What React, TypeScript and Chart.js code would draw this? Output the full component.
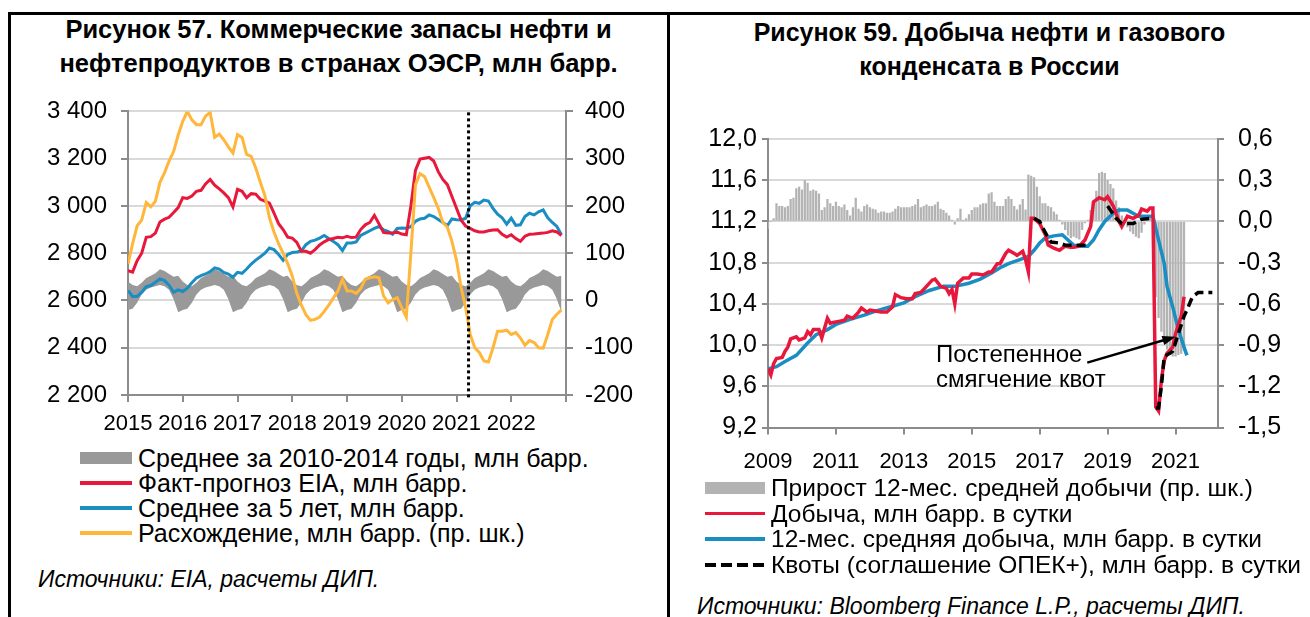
import React, { useEffect, useRef } from "react";
import { Chart, registerables } from "chart.js";

Chart.register(...registerables);

const FONT = '"Liberation Sans", Arial, Helvetica, sans-serif';
Chart.defaults.font.family = FONT;

// ---------------- Рисунок 57 (left) ----------------
const leftStartYear = 2015;
const leftYearTicks = [2015, 2016, 2017, 2018, 2019, 2020, 2021, 2022, 2023];
const leftYTicks = [2200, 2400, 2600, 2800, 3000, 3200, 3400];
const leftY1Ticks = [-200, -100, 0, 100, 200, 300, 400];
const forecastStart = 2021.22;

// monthly, Jan 2015 .. Dec 2022
const eiaStocks = [
  2726, 2720, 2768, 2800, 2867, 2870, 2885, 2932, 2944, 2952, 2972, 2993,
  3035, 3032, 3042, 3062, 3066, 3093, 3112, 3088, 3072, 3055, 3035, 2996,
  3070, 3062, 3035, 3052, 3050, 3028, 3020, 3012, 2970, 2925, 2900, 2868,
  2864, 2846, 2808, 2808, 2800, 2815, 2835, 2848, 2858, 2862, 2867, 2865,
  2871, 2866, 2868, 2900, 2920, 2930, 2960, 2925, 2888, 2885, 2886, 2889,
  2881, 2878, 3000, 3150, 3198, 3202, 3206, 3190, 3145, 3112, 3090, 3040,
  2990, 2940, 2915, 2905, 2895, 2890, 2890, 2895, 2898, 2899, 2880, 2868,
  2878, 2862, 2850, 2872, 2880, 2881, 2883, 2885, 2888, 2895, 2890, 2875,
];
const avg5y = [
  2642, 2617, 2617, 2635, 2659, 2663, 2677, 2691, 2684, 2665, 2635, 2645,
  2638, 2652, 2675, 2695, 2705, 2712, 2722, 2738, 2733, 2719, 2712, 2698,
  2719, 2715, 2733, 2754, 2771, 2785, 2800, 2822, 2815, 2795, 2770, 2795,
  2803, 2805, 2810, 2836, 2850, 2855, 2864, 2875, 2862, 2850, 2836, 2811,
  2843, 2843, 2848, 2875, 2885, 2895, 2905, 2913, 2899, 2892, 2880, 2905,
  2907, 2906, 2912, 2935, 2945, 2948, 2962, 2955, 2943, 2930, 2917, 2945,
  2942, 2941, 2948, 3000, 3015, 3011, 3025, 3021, 2990, 2965, 2950, 2923,
  2948, 2918, 2920, 2955, 2969, 2962, 2975, 2983, 2950, 2930, 2913, 2878,
];
const divergence = [
  77, 120, 158, 170, 207, 198, 210, 250, 270, 295, 315, 350,
  379, 400, 382, 372, 372, 390, 398, 345, 352, 340, 325, 312,
  351, 345, 309, 305, 280, 250, 222, 175, 145, 120, 100, 78,
  52, 15, -10, -30, -42, -40, -35, -23, -10, 5, 20, 45,
  20, 20, 15, 25, 45, 48, 50, 48, 10, -5, 2, 6,
  -15, -35, 100, 245, 268, 262, 240, 218, 195, 165, 155, 125,
  85, 28, -15, -72, -100, -110, -128, -130, -100, -65, -65, -63,
  -72, -68, -79, -95, -85, -89, -100, -101, -72, -40, -29, -20,
];
// 2010-2014 average range by calendar month (Jan..Dec), same for every year
const avg1014High = [2680, 2665, 2660, 2675, 2695, 2705, 2715, 2732, 2725, 2712, 2700, 2705];
const avg1014Low = [2560, 2565, 2590, 2625, 2645, 2655, 2660, 2665, 2660, 2645, 2605, 2550];

// ---------------- Рисунок 59 (right) ----------------
const rightStartYear = 2009;
const rightYearTicks = [2009, 2011, 2013, 2015, 2017, 2019, 2021];
const rightYTicks = [9.2, 9.6, 10.0, 10.4, 10.8, 11.2, 11.6, 12.0];
const rightY1Ticks = [-1.5, -1.2, -0.9, -0.6, -0.3, 0, 0.3, 0.6];

// months since Jan 2009
const prodMonths = [
  0, 1, 2, 3, 5, 6, 7, 8, 10, 11, 13, 14, 15, 16, 18, 19, 21, 22, 23, 25, 27, 28, 30, 32, 33, 35, 36, 38, 40, 42,
  44, 45, 47, 49, 51, 52, 54, 56, 58, 59, 61, 63, 64, 65, 66, 67, 69, 71, 72, 74, 76, 78, 79, 81, 82, 84, 85, 87,
  88, 90, 91, 92, 93, 94, 96, 98, 99, 101, 103, 105, 107, 108, 110, 112, 114, 115, 117, 119, 120, 122, 124, 125,
  127, 129, 131, 132, 134, 135, 136, 137, 138, 139, 140, 141, 143, 144, 146, 147,
];
const prodValues = [
  9.77, 9.71, 9.82, 9.87, 9.88, 9.94, 9.98, 10.06, 10.08, 10.05, 10.07, 10.13, 10.1, 10.15, 10.15, 10.07, 10.26,
  10.21, 10.22, 10.23, 10.24, 10.28, 10.26, 10.32, 10.36, 10.32, 10.34, 10.33, 10.32, 10.32,
  10.37, 10.49, 10.46, 10.45, 10.45, 10.5, 10.51, 10.57, 10.63, 10.64, 10.57, 10.55, 10.5, 10.54, 10.4, 10.6, 10.65,
  10.65, 10.69, 10.69, 10.68, 10.71, 10.71, 10.79, 10.79, 10.89, 10.92, 10.89,
  10.87, 10.91, 10.83, 10.71, 11.23, 11.23, 11.18, 11.07, 10.97, 10.94, 10.92, 10.96, 10.95, 10.95, 10.96, 11.02,
  11.15, 11.39, 11.43, 11.41, 11.44, 11.35, 11.2, 11.15,
  11.25, 11.23, 11.26, 11.32, 11.3, 11.33, 11.33, 9.4, 9.36, 9.66, 9.85, 9.92, 9.98, 10.11, 10.28, 10.47,
];
const avg12Months = [
  0, 3, 6, 10, 14, 17, 21, 24, 29, 34, 38, 43, 48, 52, 57, 62, 66, 71, 75, 79, 82, 85, 89, 92, 94, 96, 98, 101,
  104, 106, 108, 110, 113, 115, 117, 119, 122, 124, 127, 129, 131, 134, 136, 138, 140, 141, 143, 145, 147, 148,
];
const avg12Values = [
  9.77, 9.79, 9.84, 9.9, 10.02, 10.1, 10.15, 10.2, 10.25, 10.29, 10.33, 10.37, 10.41, 10.47, 10.53, 10.57, 10.57,
  10.6, 10.64, 10.7, 10.75, 10.79, 10.83, 10.86, 10.92, 10.99, 11.04, 11.06,
  11.07, 11.02, 10.97, 10.96, 10.96, 11.02, 11.12, 11.2, 11.28, 11.31, 11.31, 11.28, 11.25, 11.25, 11.25, 11.02,
  10.79, 10.57, 10.37, 10.15, 9.98, 9.9,
];
const quotaMonths = [
  94, 96, 98, 100, 103, 105, 113, 114, 120, 123, 125, 129, 132, 135, 136, 137, 138, 139, 140, 142, 143, 145, 147,
  148, 150, 152, 157,
];
const quotaValues = [
  11.23, 11.2, 11.09, 11.0, 10.99, 10.97, 10.97, null, 11.35, 11.23, 11.18, 11.18, 11.22, 11.23, null, 9.39, 9.39,
  9.6, 9.89, 9.92, 9.94, 10.11, 10.28, 10.34, 10.47, 10.51, 10.51,
];
// monthly from Jan 2009 (right axis)
const growth12 = [
  -0.05, 0.0, 0.02, 0.13, 0.11, 0.11, 0.1, 0.11, 0.16, 0.17, 0.24, 0.25,
  0.23, 0.3, 0.28, 0.22, 0.23, 0.22, 0.2, 0.08, 0.1, 0.16, 0.13, 0.11,
  0.14, 0.11, 0.1, 0.12, 0.08, 0.04, 0.1, 0.17, 0.09, 0.07, 0.11, 0.12,
  0.1, 0.09, 0.085, 0.06, 0.07, 0.07, 0.06, 0.06, 0.07, 0.09, 0.11, 0.1,
  0.1, 0.1, 0.1, 0.11, 0.12, 0.16, 0.1, 0.11, 0.12, 0.11, 0.11, 0.12,
  0.14, 0.09, 0.08, 0.06, 0.04, 0.01, -0.02, 0.02, 0.09, 0.01, 0.02, 0.05,
  0.08, 0.1, 0.1, 0.12, 0.13, 0.13, 0.2, 0.21, 0.14, 0.11, 0.11, 0.11,
  0.16, 0.18, 0.16, 0.11, 0.085, 0.12, 0.16, 0.085, 0.34, 0.33, 0.32, 0.25,
  0.18, 0.13, 0.13, 0.11, 0.1, 0.07, 0.05, 0.01, -0.02, -0.06, -0.1, -0.12,
  -0.11, -0.12, -0.13, -0.06, -0.01, 0.01, 0.08, 0.15, 0.22, 0.35, 0.36, 0.35,
  0.3, 0.27, 0.24, 0.15, 0.1, 0.04, 0.0, -0.04, -0.07, -0.09, -0.11, -0.12,
  -0.08, -0.02, 0.03, 0.04, 0.0, -0.55, -0.7, -0.8, -0.88, -0.93, -0.96, -0.98,
  -0.98, -0.97, -0.96, -0.94,
];
const annotationLines = ["Постепенное", "смягчение квот"];
const annotationAt = { x: 2013.95, y: 9.9 };
const arrowFrom = { x: 2018.4, y: 9.83 };
const arrowTo = { x: 2021.0, y: 10.08 };

// ---------------- colours ----------------
const RED = "#e8183c";
const BLUE = "#1a8dc2";
const ORANGE = "#ffb63a";
const BAND = "#999999";
const BARS = "#b3b3b3";
const AXIS = "#8c8c8c";
const GRID = "#d9d9d9";

const monthX = (start: number, m: number) => start + m / 12;
const fmtThousands = (v: number) =>
  v >= 1000 ? `${Math.floor(v / 1000)} ${String(v % 1000).padStart(3, "0")}` : String(v);
const fmtComma = (v: number) => v.toFixed(1).replace(".", ",");

function fixedTicks(values: number[]) {
  return (axis: any) => {
    axis.ticks = values.map((v) => ({ value: v }));
  };
}

function leftConfig(): any {
  const xs = eiaStocks.map((_, i) => monthX(leftStartYear, i));
  const bandHigh = xs.map((x, i) => ({ x, y: avg1014High[i % 12] }));
  const bandLow = xs.map((x, i) => ({ x, y: avg1014Low[i % 12] }));
  const line = (vals: number[]) => vals.map((y, i) => ({ x: xs[i], y }));
  return {
    type: "line",
    data: {
      datasets: [
        { data: bandLow, borderWidth: 0, pointRadius: 0, fill: false, order: 6, borderColor: "rgba(0,0,0,0)" },
        { data: bandHigh, borderWidth: 0, pointRadius: 0, fill: "-1", backgroundColor: BAND, order: 5, borderColor: "rgba(0,0,0,0)" },
        { data: line(avg5y), borderColor: BLUE, borderWidth: 3, pointRadius: 0, order: 3 },
        { data: line(eiaStocks), borderColor: RED, borderWidth: 3, pointRadius: 0, order: 2 },
        { data: line(divergence), borderColor: ORANGE, borderWidth: 3, pointRadius: 0, order: 1, yAxisID: "y1" },
        {
          data: [
            { x: forecastStart, y: 2190 },
            { x: forecastStart, y: 3400 },
          ],
          borderColor: "#000",
          borderWidth: 3,
          borderDash: [3, 3],
          pointRadius: 0,
          order: 0,
          clip: false,
        },
      ],
    },
    options: {
      responsive: true,
      maintainAspectRatio: false,
      animation: false,
      events: [],
      layout: { padding: 0 },
      elements: { line: { tension: 0 } },
      plugins: { legend: { display: false }, tooltip: { enabled: false } },
      scales: {
        x: {
          type: "linear",
          min: 2015,
          max: 2023,
          afterBuildTicks: fixedTicks(leftYearTicks),
          afterFit: (s: any) => {
            s.height = 40;
          },
          ticks: {
            callback: (v: number) => (v === 2023 ? "" : String(v)),
            font: { size: 22 },
            color: "#000",
            maxRotation: 0,
            autoSkip: false,
            padding: 9,
          },
          grid: { drawOnChartArea: false, color: AXIS, lineWidth: 2, tickLength: 7 },
          border: { color: AXIS, width: 2 },
        },
        y: {
          position: "left",
          min: 2200,
          max: 3400,
          afterBuildTicks: fixedTicks(leftYTicks),
          afterFit: (s: any) => {
            s.width = 108;
          },
          ticks: { callback: (v: number) => fmtThousands(v), font: { size: 24 }, color: "#000", padding: 14 },
          grid: { color: GRID, lineWidth: 2, tickColor: AXIS, tickLength: 7 },
          border: { color: AXIS, width: 2 },
        },
        y1: {
          position: "right",
          min: -200,
          max: 400,
          afterBuildTicks: fixedTicks(leftY1Ticks),
          afterFit: (s: any) => {
            s.width = 74;
          },
          ticks: { callback: (v: number) => String(v), font: { size: 24 }, color: "#000", padding: 12 },
          grid: { drawOnChartArea: false, color: AXIS, lineWidth: 2, tickLength: 7 },
          border: { color: AXIS, width: 2 },
        },
      },
    },
  };
}

const annotationPlugin = {
  id: "quotaAnnotation",
  afterDatasetsDraw(chart: any) {
    const { ctx, scales } = chart;
    const x = scales.x;
    const y = scales.y;
    ctx.save();
    ctx.fillStyle = "#000";
    ctx.font = `24px ${FONT}`;
    ctx.textBaseline = "middle";
    const tx = x.getPixelForValue(annotationAt.x);
    const ty = y.getPixelForValue(annotationAt.y);
    annotationLines.forEach((t, i) => ctx.fillText(t, tx, ty + i * 25));
    const x0 = x.getPixelForValue(arrowFrom.x);
    const y0 = y.getPixelForValue(arrowFrom.y);
    const x1 = x.getPixelForValue(arrowTo.x);
    const y1 = y.getPixelForValue(arrowTo.y);
    const ang = Math.atan2(y1 - y0, x1 - x0);
    ctx.strokeStyle = "#000";
    ctx.lineWidth = 2.5;
    ctx.beginPath();
    ctx.moveTo(x0, y0);
    ctx.lineTo(x1 - 8 * Math.cos(ang), y1 - 8 * Math.sin(ang));
    ctx.stroke();
    ctx.beginPath();
    ctx.moveTo(x1, y1);
    ctx.lineTo(x1 - 14 * Math.cos(ang - 0.35), y1 - 14 * Math.sin(ang - 0.35));
    ctx.lineTo(x1 - 14 * Math.cos(ang + 0.35), y1 - 14 * Math.sin(ang + 0.35));
    ctx.closePath();
    ctx.fill();
    ctx.restore();
  },
};

function rightConfig(): any {
  const pts = (months: number[], vals: (number | null)[]) =>
    months.map((m, i) => ({ x: monthX(rightStartYear, m), y: vals[i] }));
  return {
    type: "line",
    data: {
      datasets: [
        {
          type: "line",
          data: pts(quotaMonths, quotaValues),
          borderColor: "#000",
          borderWidth: 3.5,
          borderDash: [9, 5],
          pointRadius: 0,
          spanGaps: false,
          order: 1,
        },
        { type: "line", data: pts(prodMonths, prodValues), borderColor: RED, borderWidth: 3.5, pointRadius: 0, order: 2 },
        { type: "line", data: pts(avg12Months, avg12Values), borderColor: BLUE, borderWidth: 3.5, pointRadius: 0, order: 3 },
        {
          type: "bar",
          data: growth12.map((v, i) => ({ x: monthX(rightStartYear, i), y: v })),
          backgroundColor: BARS,
          barThickness: 1.6,
          yAxisID: "y1",
          order: 10,
        },
      ],
    },
    plugins: [annotationPlugin],
    options: {
      responsive: true,
      maintainAspectRatio: false,
      animation: false,
      events: [],
      layout: { padding: 0 },
      elements: { line: { tension: 0 } },
      plugins: { legend: { display: false }, tooltip: { enabled: false } },
      scales: {
        x: {
          type: "linear",
          min: 2009,
          max: 2022.25,
          offset: false,
          afterBuildTicks: fixedTicks(rightYearTicks),
          afterFit: (s: any) => {
            s.height = 53;
          },
          ticks: { callback: (v: number) => String(v), font: { size: 22 }, color: "#000", maxRotation: 0, autoSkip: false, padding: 14 },
          grid: { drawOnChartArea: false, color: AXIS, lineWidth: 2, tickLength: 7, offset: false },
          border: { color: AXIS, width: 2 },
        },
        y: {
          position: "left",
          min: 9.2,
          max: 12.0,
          afterBuildTicks: fixedTicks(rightYTicks),
          afterFit: (s: any) => {
            s.width = 88;
          },
          ticks: { callback: (v: number) => fmtComma(v), font: { size: 25 }, color: "#000", padding: 5 },
          grid: { color: GRID, lineWidth: 2, tickColor: AXIS, tickLength: 6 },
          border: { color: AXIS, width: 2 },
        },
        y1: {
          position: "right",
          min: -1.5,
          max: 0.6,
          afterBuildTicks: fixedTicks(rightY1Ticks),
          afterFit: (s: any) => {
            s.width = 72;
          },
          ticks: { callback: (v: number) => fmtComma(v), font: { size: 25 }, color: "#000", padding: 14 },
          grid: { drawOnChartArea: false, color: AXIS, lineWidth: 2, tickLength: 6 },
          border: { color: AXIS, width: 2 },
        },
      },
    },
  };
}

function ChartBox({ make, left, top, width, height }: any) {
  const ref = useRef<HTMLCanvasElement>(null);
  useEffect(() => {
    const chart = new Chart(ref.current as HTMLCanvasElement, make());
    return () => chart.destroy();
  }, []);
  return (
    <div style={{ position: "absolute", left, top, width, height }}>
      <canvas ref={ref} />
    </div>
  );
}

type LegendItem = { kind: "box" | "line" | "dash"; color: string; label: string };

const leftLegend: LegendItem[] = [
  { kind: "box", color: BAND, label: "Среднее за 2010-2014 годы, млн барр." },
  { kind: "line", color: RED, label: "Факт-прогноз EIA, млн барр." },
  { kind: "line", color: BLUE, label: "Среднее за 5 лет, млн барр." },
  { kind: "line", color: ORANGE, label: "Расхождение, млн барр. (пр. шк.)" },
];
const rightLegend: LegendItem[] = [
  { kind: "box", color: BARS, label: "Прирост 12-мес. средней добычи (пр. шк.)" },
  { kind: "line", color: RED, label: "Добыча, млн барр. в сутки" },
  { kind: "line", color: BLUE, label: "12-мес. средняя добыча, млн барр. в сутки" },
  { kind: "dash", color: "#000", label: "Квоты (соглашение ОПЕК+), млн барр. в сутки" },
];

function Legend({ items, left, top, iconWidth, step, fontSize }: any) {
  return (
    <div style={{ position: "absolute", left, top }}>
      {items.map((it: LegendItem, i: number) => {
        let icon: any;
        if (it.kind === "box") icon = <div style={{ width: iconWidth, height: 12, background: it.color }} />;
        else if (it.kind === "line") icon = <div style={{ width: iconWidth, height: 3.5, background: it.color }} />;
        else
          icon = (
            <div
              style={{
                width: iconWidth,
                height: 4,
                background: `repeating-linear-gradient(to right, ${it.color} 0 11px, transparent 11px 16px)`,
              }}
            />
          );
        return (
          <div
            key={i}
            style={{ position: "absolute", left: 0, top: i * step, height: 26, display: "flex", alignItems: "center", whiteSpace: "nowrap" }}
          >
            {icon}
            <span style={{ marginLeft: 6, fontSize, lineHeight: "26px", color: "#000" }}>{it.label}</span>
          </div>
        );
      })}
    </div>
  );
}

export default function App() {
  return (
    <div
      style={{
        position: "absolute",
        left: 0,
        top: 0,
        width: 1310,
        height: 617,
        overflow: "hidden",
        background: "#fff",
        fontFamily: FONT,
        color: "#000",
      }}
    >
      <div style={{ position: "absolute", left: 8, top: 12, width: 1302, height: 2.5, background: "#000" }} />
      <div style={{ position: "absolute", left: 8, top: 12, width: 2.5, height: 605, background: "#000" }} />
      <div style={{ position: "absolute", left: 667, top: 12, width: 2.5, height: 605, background: "#000" }} />

      <div
        style={{ position: "absolute", left: 10, top: 12, width: 657, textAlign: "center", fontWeight: "bold", fontSize: 25.5, lineHeight: "34px" }}
      >
        Рисунок 57. Коммерческие запасы нефти и
        <br />
        нефтепродуктов в странах ОЭСР, млн барр.
      </div>
      <div
        style={{ position: "absolute", left: 669, top: 15, width: 641, textAlign: "center", fontWeight: "bold", fontSize: 25, lineHeight: "34px" }}
      >
        Рисунок 59. Добыча нефти и газового
        <br />
        конденсата в России
      </div>

      <ChartBox make={leftConfig} left={20} top={83} width={620} height={352} />
      <ChartBox make={rightConfig} left={680} top={109.5} width={610} height={370.5} />

      <Legend items={leftLegend} left={80} top={445} iconWidth={52} step={25} fontSize={25} />
      <Legend items={rightLegend} left={705} top={475} iconWidth={60} step={25.5} fontSize={24.5} />

      <div style={{ position: "absolute", left: 38, top: 566, fontSize: 23, fontStyle: "italic", whiteSpace: "nowrap" }}>
        Источники: EIA, расчеты ДИП.
      </div>
      <div style={{ position: "absolute", left: 697, top: 593, fontSize: 23, fontStyle: "italic", whiteSpace: "nowrap" }}>
        Источники: Bloomberg Finance L.P., расчеты ДИП.
      </div>
    </div>
  );
}
